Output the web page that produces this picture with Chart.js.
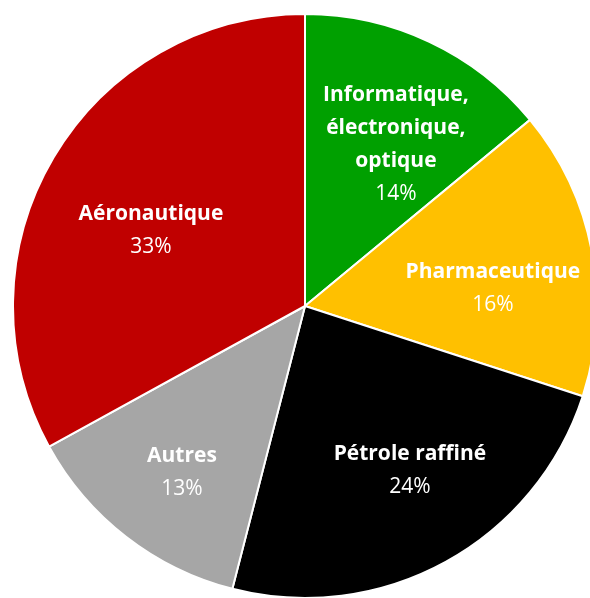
<!DOCTYPE html>
<html>
<head>
<meta charset="utf-8">
<script src="https://cdn.jsdelivr.net/npm/chart.js@4/dist/chart.umd.min.js"></script>
<style>
html, body { margin:0; padding:0; background:#fff; overflow:hidden; width:590px; height:598px; }
#holder { position:absolute; left:12px; top:13px; width:586px; height:586px; }
</style>
</head>
<body>
<div id="holder"><canvas id="chart-area"></canvas></div>
<script>
// données du graphique
var categories = [["Informatique,", "électronique,", "optique"], ["Pharmaceutique"], ["Pétrole raffiné"], ["Autres"], ["Aéronautique"]];
var shares = [14, 16, 24, 13, 33];
var colors = ["#00a000", "#ffc000", "#000000", "#a6a6a6", "#c00000"];

// placement des étiquettes : fraction du rayon et décalage d'angle (degrés)
var labelDist = [0.636, 0.646, 0.667, 0.71, 0.587];
var labelShift = [4.1, 5.6, -3.8, -1.4, -4.6];

var pieLabels = {
    id: 'pieLabels',
    afterDatasetsDraw: function(chart) {
        var ctx = chart.ctx;
        var meta = chart.getDatasetMeta(0);
        var lineH = 33;
        ctx.save();
        ctx.fillStyle = "#ffffff";
        ctx.textAlign = "center";
        ctx.textBaseline = "middle";
        for (var i = 0; i < meta.data.length; i++) {
            var arc = meta.data[i];
            var mid = (arc.startAngle + arc.endAngle) / 2 + labelShift[i] * Math.PI / 180;
            var d = arc.outerRadius * labelDist[i];
            var x = arc.x + Math.cos(mid) * d;
            var y = arc.y + Math.sin(mid) * d;
            var lines = categories[i].concat([shares[i] + "%"]);
            var top = y - (lines.length - 1) * lineH / 2;
            for (var j = 0; j < lines.length; j++) {
                var last = j == lines.length - 1;
                ctx.font = (last ? "normal " : "bold ") + "21px 'Open Sans'";
                ctx.fillText(lines[j], x, top + j * lineH);
            }
        }
        ctx.restore();
    }
};

var config = {
    type: 'pie',
    data: {
        labels: categories.map(function(c){ return c.join(" "); }),
        datasets: [{
            data: shares,
            backgroundColor: colors,
            borderColor: "#ffffff",
            borderWidth: 2,
            hoverOffset: 0
        }]
    },
    options: {
        responsive: true,
        maintainAspectRatio: false,
        animation: false,
        layout: { padding: 0 },
        events: [],
        plugins: {
            legend: { display: false },
            tooltip: { enabled: false }
        }
    },
    plugins: [pieLabels]
};
var ctx = document.getElementById('chart-area').getContext('2d');
var myPie = new Chart(ctx, config);
</script>
</body>
</html>
